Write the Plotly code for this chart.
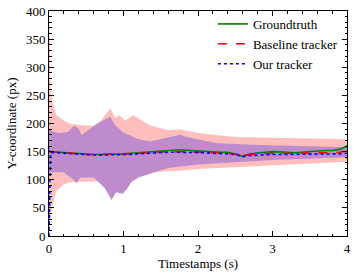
import plotly.graph_objects as go

# ---- data ----
t_line = [i / 10 for i in range(41)]
groundtruth = [150, 149, 148, 147, 146, 145, 145, 145, 145, 145, 146, 147, 148, 150, 151, 151, 152, 153, 153, 152,
               152, 151, 150, 149, 149, 146, 142, 146, 148, 149, 150, 150, 149, 148, 149, 151, 151, 152, 152, 154, 160]
baseline = [150, 149, 147, 146, 145, 145, 145, 145, 145, 145, 145, 146, 147, 148, 149, 149, 150, 150, 150, 149,
            149, 149, 148, 148, 147, 146, 143, 145, 146, 146, 147, 147, 147, 147, 147, 148, 148, 148, 148, 149, 151]
t_ours = [0.0, 0.02] + t_line[1:]
ours = [0, 148, 148, 147, 146, 145, 144, 144, 144, 144, 144, 144, 145, 146, 147, 148, 148, 149, 149, 149, 148, 148,
        148, 147, 147, 146, 145, 141, 143, 144, 145, 145, 145, 145, 145, 145, 146, 146, 146, 146, 146, 147]

# baseline tracker band (pink)
t_pink = [0.0, 0.01, 0.02, 0.04, 0.07, 0.1, 0.2, 0.3, 0.45, 0.6, 0.7, 0.82, 0.89, 0.94, 1.02, 1.13, 1.35, 1.6,
          1.75, 2.0, 2.5, 3.0, 3.5, 4.0]
pink_upper = [420, 330, 270, 240, 225, 215, 205, 199, 197, 196, 205, 227, 210, 215, 205, 215, 197, 188, 190, 183,
              176, 175, 173, 172]
pink_lower = [0, 15, 30, 50, 68, 80, 92, 96, 96, 97, 97, 99, 100, 100, 104, 112, 114, 115, 116, 119, 123, 126,
              129, 132]

# our tracker band (purple)
t_purple_u = [0.0, 0.05, 0.15, 0.25, 0.34, 0.39, 0.44, 0.65, 0.82, 0.89, 0.99, 1.2, 1.36, 1.6, 1.76, 1.85, 2.26,
              2.84, 3.5, 4.0]
purple_upper = [192, 186, 183, 185, 196, 192, 180, 200, 212, 197, 185, 172, 168, 175, 180, 176, 165, 162, 160, 158]
t_purple_l = [0.0, 0.2, 0.33, 0.37, 0.42, 0.6, 0.75, 0.84, 0.9, 0.99, 1.05, 1.1, 1.2, 1.35, 1.6, 2.0, 2.5, 3.0,
              3.5, 4.0]
purple_lower = [114, 113, 100, 94, 104, 104, 85, 64, 78, 75, 84, 95, 104, 110, 121, 127, 131, 135, 138, 140]

FONT = "Times New Roman, Liberation Serif, DejaVu Serif, serif"

fig = go.Figure()
fig.add_trace(go.Scatter(x=t_pink + t_pink[::-1], y=pink_upper + pink_lower[::-1], fill="toself",
                         fillcolor="rgb(255,190,190)", line=dict(width=0), mode="lines",
                         showlegend=False, hoverinfo="skip"))
fig.add_trace(go.Scatter(x=t_purple_u + t_purple_l[::-1], y=purple_upper + purple_lower[::-1], fill="toself",
                         fillcolor="rgb(190,140,205)", line=dict(width=0), mode="lines",
                         showlegend=False, hoverinfo="skip"))
fig.add_trace(go.Scatter(x=t_line, y=groundtruth, mode="lines", name="Groundtruth",
                         line=dict(color="rgb(0,128,0)", width=1.6)))
fig.add_trace(go.Scatter(x=t_line, y=baseline, mode="lines", name="Baseline tracker",
                         line=dict(color="rgb(255,0,0)", width=1.6, dash="dash")))
fig.add_trace(go.Scatter(x=t_ours, y=ours, mode="lines", name="Our tracker",
                         line=dict(color="rgb(0,0,255)", width=1.6, dash="dot")))

axis_common = dict(showline=True, linecolor="black", linewidth=1, mirror="allticks", ticks="inside",
                   ticklen=5, tickcolor="black", tickwidth=1, showgrid=False, zeroline=False,
                   automargin=False,
                   tickfont=dict(family=FONT, size=13, color="black"))
fig.update_xaxes(range=[0, 4], dtick=1, title=dict(text="Timestamps (s)", font=dict(family=FONT, size=13,
                 color="black"), standoff=4),
                 minor=dict(ticks="inside", ticklen=2.5, dtick=0.2, tickcolor="black", tickwidth=1),
                 **axis_common)
fig.update_yaxes(range=[0, 400], dtick=50, title=dict(text="Y-coordinate (px)", font=dict(family=FONT, size=13,
                 color="black"), standoff=6),
                 minor=dict(ticks="inside", ticklen=2.5, dtick=10, tickcolor="black", tickwidth=1),
                 **axis_common)

fig.update_layout(width=357, height=277, margin=dict(l=49, r=10, t=11, b=41, autoexpand=False),
                  plot_bgcolor="white", paper_bgcolor="white",
                  font=dict(family=FONT, size=13, color="black"),
                  legend=dict(x=0.55, y=1.009, xanchor="left", yanchor="top", bgcolor="rgba(0,0,0,0)",
                              font=dict(family=FONT, size=13), tracegroupgap=0))
# remove the default 8px body margin so the figure sits at the page's top-left corner
fig.write_html("out.html", config={"displayModeBar": False},
               post_script="document.body.style.margin='0px';")
